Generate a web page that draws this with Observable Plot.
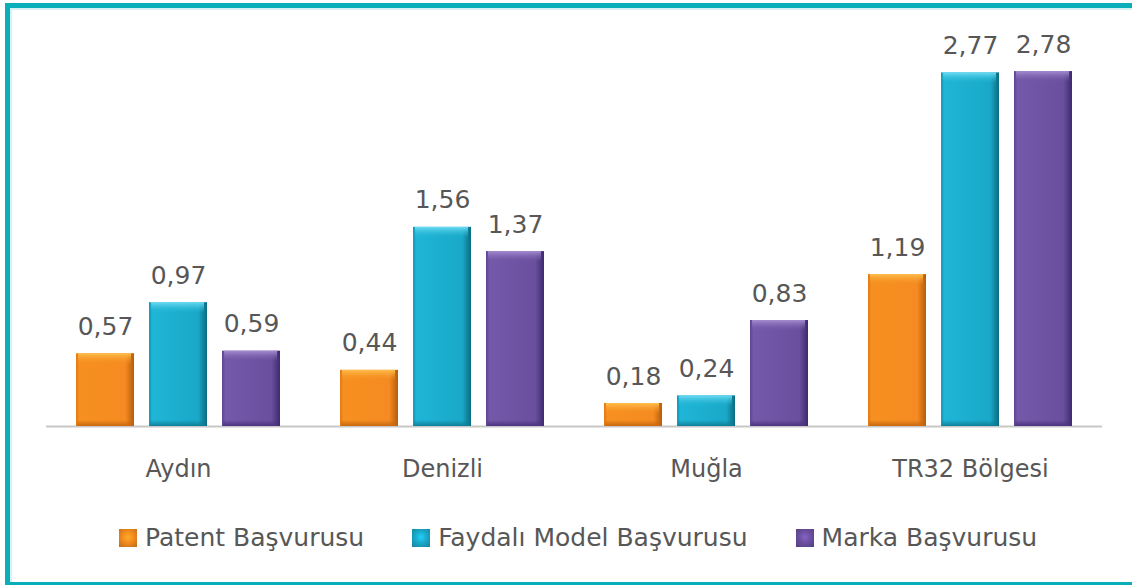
<!DOCTYPE html>
<html>
<head>
<meta charset="utf-8">
<script src="https://cdn.jsdelivr.net/npm/d3@7"></script>
<script src="https://cdn.jsdelivr.net/npm/@observablehq/plot@0.6"></script>
<style>
  html, body { margin: 0; padding: 0; background: #fff; overflow: hidden; }
  #wrap { position: relative; width: 1132px; height: 585px; overflow: hidden; font-family: "DejaVu Sans", sans-serif; }
  .bar { position: absolute; background: #0AAEB8; }
  .hl { position: absolute; background: #D6F1F3; }
  #chart { position: absolute; left: 0; top: 0; }
  #legend { position: absolute; left: 119px; top: 525px; display: flex; align-items: center;
            font-size: 25px; line-height: 25px; color: #575757; white-space: nowrap; }
  .item { display: flex; align-items: center; margin-right: 48px; }
  .sw { width: 18px; height: 18px; margin-right: 8px; box-sizing: border-box; }
</style>
</head>
<body>
<svg width="0" height="0" style="position:absolute">
  <defs>
    <linearGradient id="g0" x1="0" x2="1" y1="0" y2="0">
      <stop offset="0" stop-color="#E07A18"/>
      <stop offset="0.06" stop-color="#F6901F"/>
      <stop offset="0.85" stop-color="#F58A22"/>
      <stop offset="1" stop-color="#B65D0C"/>
    </linearGradient>
    <linearGradient id="g1" x1="0" x2="1" y1="0" y2="0">
      <stop offset="0" stop-color="#1597B5"/>
      <stop offset="0.06" stop-color="#1FB5D6"/>
      <stop offset="0.85" stop-color="#1AA8C8"/>
      <stop offset="1" stop-color="#0B6A80"/>
    </linearGradient>
    <linearGradient id="g2" x1="0" x2="1" y1="0" y2="0">
      <stop offset="0" stop-color="#5E4494"/>
      <stop offset="0.06" stop-color="#7458A9"/>
      <stop offset="0.85" stop-color="#6B4F9F"/>
      <stop offset="1" stop-color="#3D2A6C"/>
    </linearGradient>
    <linearGradient id="c0" x1="0" x2="0" y1="0" y2="1">
      <stop offset="0" stop-color="#FFC04E"/>
      <stop offset="1" stop-color="#F6901F" stop-opacity="0"/>
    </linearGradient>
    <linearGradient id="c1" x1="0" x2="0" y1="0" y2="1">
      <stop offset="0" stop-color="#6FDCF2"/>
      <stop offset="1" stop-color="#1FB5D6" stop-opacity="0"/>
    </linearGradient>
    <linearGradient id="c2" x1="0" x2="0" y1="0" y2="1">
      <stop offset="0" stop-color="#A48ED0"/>
      <stop offset="1" stop-color="#7458A9" stop-opacity="0"/>
    </linearGradient>
    <linearGradient id="b0" x1="0" x2="0" y1="0" y2="1">
      <stop offset="0" stop-color="#C8690F" stop-opacity="0"/>
      <stop offset="1" stop-color="#C8690F"/>
    </linearGradient>
    <linearGradient id="b1" x1="0" x2="0" y1="0" y2="1">
      <stop offset="0" stop-color="#0E7F99" stop-opacity="0"/>
      <stop offset="1" stop-color="#0E7F99"/>
    </linearGradient>
    <linearGradient id="b2" x1="0" x2="0" y1="0" y2="1">
      <stop offset="0" stop-color="#4B3480" stop-opacity="0"/>
      <stop offset="1" stop-color="#4B3480"/>
    </linearGradient>
  </defs>
</svg>
<div id="wrap">
  <div class="bar" style="left:5px; top:3px; width:1127px; height:5px;"></div>
  <div class="bar" style="left:5px; top:3px; width:5px; height:582px;"></div>
  <div class="bar" style="left:5px; top:582px; width:1127px; height:3px;"></div>
  <div class="hl" style="left:10px; top:8px; width:1122px; height:2px;"></div>
  <div class="hl" style="left:10px; top:8px; width:2px; height:574px;"></div>
  <div id="chart"></div>
  <div id="legend"></div>
</div>
<script>
const regions = ["Aydın", "Denizli", "Muğla", "TR32 Bölgesi"];
const series = ["Patent Başvurusu", "Faydalı Model Başvurusu", "Marka Başvurusu"];
const patent = [0.57, 0.44, 0.18, 1.19];
const faydali = [0.97, 1.56, 0.24, 2.77];
const marka = [0.59, 1.37, 0.83, 2.78];
const seriesValues = [patent, faydali, marka];
const swatchColors = ["#F28A1E", "#1AA8C8", "#6B4F9F"];

const data = [];
regions.forEach((r, i) => series.forEach((s, j) => data.push({region: r, series: s, idx: j, value: seriesValues[j][i]})));

const fmt = v => v.toFixed(2).replace(".", ",");

const marks = [Plot.ruleY([0], {stroke: "#C8C8C8", strokeWidth: 2})];
series.forEach((s, j) => {
  const sub = data.filter(d => d.idx === j);
  marks.push(
    Plot.barY(sub, {fx: "region", x: "series", y: "value", fill: `url(#g${j})`}),
    Plot.barY(sub, {fx: "region", x: "series", y1: "value", y2: "value", insetBottom: -11, insetLeft: 2, insetRight: 3, fill: `url(#c${j})`}),
    Plot.barY(sub, {fx: "region", x: "series", y1: 0, y2: 0, insetTop: -6, insetLeft: 1, insetRight: 2, fill: `url(#b${j})`})
  );
});
marks.push(
  Plot.text(data, {fx: "region", x: "series", y: "value", text: d => fmt(d.value), dy: -19, lineAnchor: "bottom", fontSize: 25, fill: "#575757"}),
  Plot.axisFx({anchor: "bottom", tickSize: 0, tickPadding: 33, fontSize: 24, label: null, fill: "#575757"})
);

const chart = Plot.plot({
  width: 1132,
  height: 490,
  marginLeft: 46,
  marginRight: 30,
  marginTop: 43,
  marginBottom: 64,
  fx: {domain: regions, padding: 0, label: null},
  x: {domain: series, paddingInner: 0.2, paddingOuter: 0.39, axis: null},
  y: {domain: [0, 3], axis: null},
  style: {fontFamily: "DejaVu Sans, sans-serif", background: "transparent", color: "#575757", overflow: "visible"},
  marks
});
document.getElementById("chart").appendChild(chart);

const legend = document.getElementById("legend");
series.forEach((s, j) => {
  const it = document.createElement("div");
  it.className = "item";
  const sw = document.createElement("div");
  sw.className = "sw";
  sw.style.background = `radial-gradient(circle at 50% 45%, ${d3.color(swatchColors[j]).brighter(0.6)} 0%, ${swatchColors[j]} 45%, ${d3.color(swatchColors[j]).darker(0.7)} 100%)`;
  const tx = document.createElement("span");
  tx.textContent = s;
  it.appendChild(sw);
  it.appendChild(tx);
  legend.appendChild(it);
});
</script>
</body>
</html>
